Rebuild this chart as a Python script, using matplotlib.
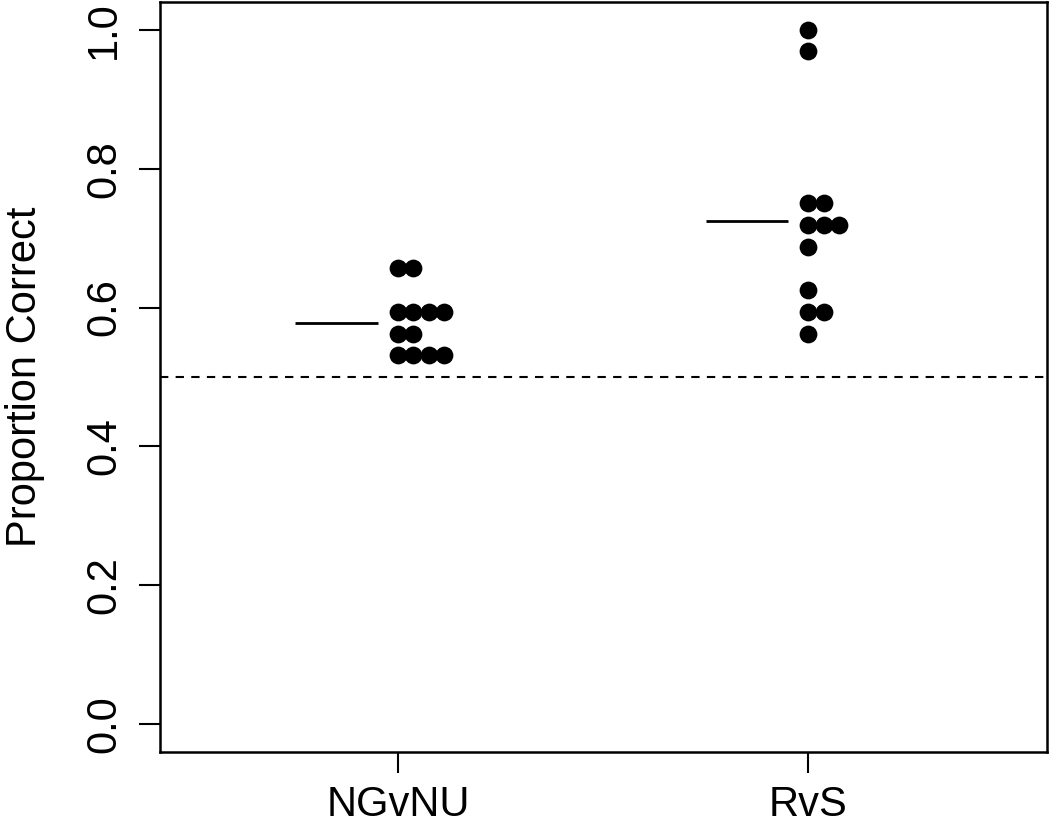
import matplotlib
matplotlib.use("Agg")
import matplotlib.pyplot as plt
import numpy as np

plt.rcParams['font.family'] = ['Liberation Sans', 'DejaVu Sans']

categories = ["NGvNU", "RvS"]
ngvnu_values = [0.65625, 0.65625,
                0.59375, 0.59375, 0.59375, 0.59375,
                0.5625, 0.5625,
                0.53125, 0.53125, 0.53125, 0.53125]
rvs_values = [1.0, 0.96875,
              0.75, 0.75,
              0.71875, 0.71875, 0.71875,
              0.6875, 0.625,
              0.59375, 0.59375,
              0.5625]
series = [ngvnu_values, rvs_values]
chance_level = 0.5
y_ticks = [0.0, 0.2, 0.4, 0.6, 0.8, 1.0]
y_label = "Proportion Correct"

fig = plt.figure(figsize=(10.5, 8.26), dpi=100)
ax = fig.add_axes([160 / 1050, 1 - 752 / 826, (1046.5 - 160) / 1050, (752 - 2) / 826])

stack_step = 0.0372
for pos, vals in enumerate(series, start=1):
    vals = np.asarray(vals)
    seen = {}
    xs = []
    for v in vals:
        k = seen.get(v, 0)
        xs.append(pos + k * stack_step)
        seen[v] = k + 1
    ax.plot(xs, vals, 'o', color='black', markersize=12.8, markeredgewidth=0, zorder=3)
    m = vals.mean()
    ax.plot([pos - 0.25, pos - 0.05], [m, m], color='black', lw=2.0, solid_capstyle='butt')

ax.axhline(chance_level, color='black', lw=1.5, linestyle=(0, (4, 3.5)))

ax.set_xlim(0.42, 2.58)
ax.set_ylim(-0.04, 1.04)
ax.set_xticks([1, 2])
ax.set_xticklabels(categories, fontsize=30)
ax.set_yticks(y_ticks)
ax.set_yticklabels([f"{t:.1f}" for t in y_ticks], fontsize=30, rotation=90, va='center')

for s in ax.spines.values():
    s.set_linewidth(1.8)
ax.tick_params(axis='both', direction='out', length=15, width=1.5, color='black')
ax.tick_params(axis='x', pad=9)
ax.tick_params(axis='y', pad=11)

ax.set_ylabel(y_label, fontsize=30)
ax.yaxis.set_label_coords((45 - 160) / 886.5, 0.5)

fig.savefig("out.png", dpi=100)
